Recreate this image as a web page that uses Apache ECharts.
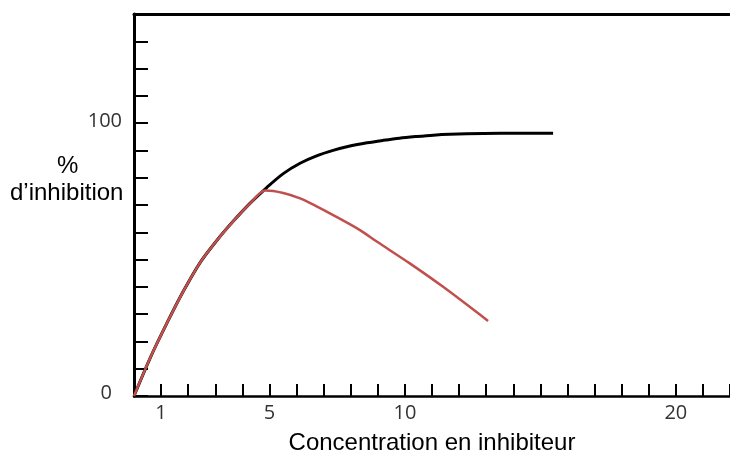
<!DOCTYPE html>
<html>
<head>
<meta charset="utf-8">
<script src="https://cdn.jsdelivr.net/npm/echarts@6/dist/echarts.min.js"></script>
<style>
html,body{margin:0;padding:0;background:#fff;}
#chart{width:730px;height:456px;}
</style>
</head>
<body>
<div id="chart"></div>
<script>
// x tick labels shown on the axis
const xTickLabels = [1, 5, 10, 20];
// y tick labels shown on the axis
const yTickLabels = [0, 100];
const xAxisTitle = 'Concentration en inhibiteur';
const yAxisTitle = ['%', 'd\u2019inhibition'];

// black curve
const blackX = [0, 0.6, 1.21, 1.8, 2.44, 3.05, 3.66, 4.28, 4.9, 5.51, 6.13, 6.74, 7.35, 7.97, 8.6, 9.2, 9.8, 10.43, 11.05, 11.66, 12.89, 14.2, 15.47];
const blackY = [0, 14.0, 26.6, 38.0, 48.9, 56.9, 64.0, 70.6, 76.4, 81.5, 85.3, 88.0, 90.0, 91.6, 92.8, 93.7, 94.5, 95.1, 95.6, 95.9, 96.2, 96.3, 96.3];

// red curve
const redX = [0, 0.6, 1.21, 1.8, 2.44, 3.05, 3.66, 4.28, 4.85, 5.51, 6.13, 6.74, 7.35, 8.34, 8.96, 10.18, 11.41, 13.07];
const redY = [0, 14.0, 26.6, 38.0, 48.9, 56.9, 64.0, 70.5, 75.3, 74.4, 72.4, 69.5, 66.3, 60.8, 56.6, 48.6, 40.0, 27.5];

const toPairs = (xs, ys) => xs.map((x, i) => [x, ys[i]]);

const chart = echarts.init(document.getElementById('chart'));
chart.setOption({
  animation: false,
  grid: { left: 134, right: 0, top: 14, bottom: 60, outerBoundsMode: 'none', containLabel: false },
  xAxis: [{
    type: 'value', min: 0, max: 22, interval: 1,
    axisLine: { show: true, lineStyle: { color: '#000', width: 2.5 } },
    axisTick: { show: true, inside: true, length: 12, lineStyle: { color: '#000', width: 2 } },
    splitLine: { show: false },
    axisLabel: {
      show: true, margin: 7, color: '#333', fontFamily: 'Open Sans', fontSize: 20,
      formatter: v => xTickLabels.indexOf(v) >= 0 ? String(v) : ''
    },
    name: xAxisTitle, nameLocation: 'middle', nameGap: 35,
    nameTextStyle: { color: '#000', fontFamily: 'Liberation Sans', fontSize: 24 }
  }, {
    type: 'value', position: 'top', min: 0, max: 22,
    axisLine: { show: true, lineStyle: { color: '#000', width: 3 } },
    axisTick: { show: false }, axisLabel: { show: false }, splitLine: { show: false }
  }],
  yAxis: {
    type: 'value', min: 0, max: 140, interval: 10,
    axisLine: { show: true, lineStyle: { color: '#000', width: 3 } },
    axisTick: { show: true, inside: true, length: 14, lineStyle: { color: '#000', width: 2 } },
    splitLine: { show: false },
    axisLabel: {
      show: true, margin: 12, color: '#333', fontFamily: 'Open Sans', fontSize: 20,
      formatter: v => yTickLabels.indexOf(v) >= 0 ? (v === 0 ? '{z|0}' : '{h|' + v + '}') : '',
      rich: {
        z: { fontFamily: 'Open Sans', fontSize: 20, color: '#333', padding: [0, 10, 6, 0] },
        h: { fontFamily: 'Open Sans', fontSize: 20, color: '#333', padding: [0, 0, 4, 0] }
      }
    }
  },
  graphic: [
    { type: 'text', left: 57, top: 154, style: { text: yAxisTitle[0], fontFamily: 'Liberation Sans', fontSize: 24, fill: '#000' } },
    { type: 'text', left: 10, top: 181, style: { text: yAxisTitle[1], fontFamily: 'Liberation Sans', fontSize: 24, fill: '#000' } }
  ],
  series: [{
    type: 'line', data: toPairs(blackX, blackY), smooth: 0.3,
    showSymbol: false, lineStyle: { color: '#000', width: 3 }
  }, {
    type: 'line', data: toPairs(redX, redY), smooth: 0.3,
    showSymbol: false, lineStyle: { color: '#c0504d', width: 2.5 }
  }]
});
</script>
</body>
</html>
